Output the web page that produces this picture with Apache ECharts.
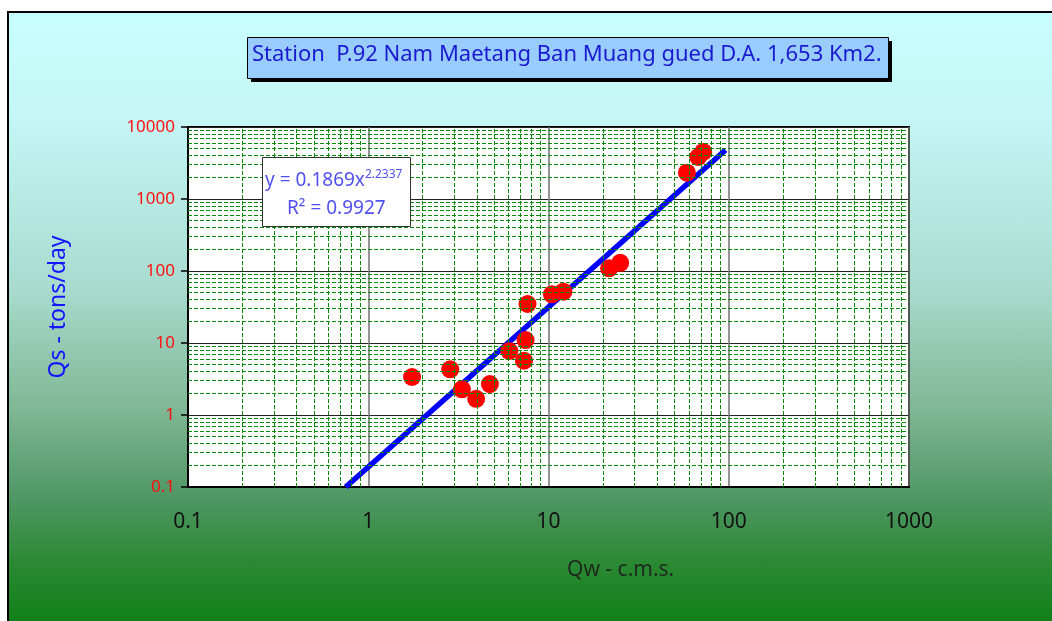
<!DOCTYPE html>
<html>
<head>
<meta charset="utf-8">
<script src="https://cdn.jsdelivr.net/npm/echarts@6/dist/echarts.min.js"></script>
<style>
html,body{margin:0;padding:0;background:#fff;}
#bg{position:absolute;left:7px;top:11px;width:1045px;height:610px;border-top:2px solid #000;border-left:2px solid #000;box-sizing:border-box;
background:linear-gradient(to bottom,#c8ffff 0%,#c3f6f4 18%,#a9dccf 45%,#7fb895 65%,#4f9663 80%,#2c8a35 90%,#11801a 100%);}
#chart{position:absolute;left:0;top:0;width:1052px;height:621px;}
</style>
</head>
<body>
<div id="bg"></div>
<div id="chart"></div>
<script>
// Observed data (Qw in c.m.s., Qs in tons/day)
var qw = [1.75, 2.85, 3.31, 3.97, 4.73, 6.06, 7.31, 7.46, 7.65, 10.45, 12.1, 21.7, 25.0, 58.6, 67.7, 72.2];
var qs = [3.37, 4.31, 2.27, 1.68, 2.69, 7.74, 5.68, 11.0, 34.8, 47.5, 51.6, 109, 130, 2317, 3830, 4500];
// Power trend line endpoints
var trendX = [0.75, 96];
var trendY = [0.1, 4800];
// Tick labels
var xTicks = ['0.1', '1', '10', '100', '1000'];
var yTicks = ['0.1', '1', '10', '100', '1000', '10000'];
var titleText = 'Station  P.92 Nam Maetang Ban Muang gued D.A. 1,653 Km2.';
var xName = 'Qw - c.m.s.';
var yName = 'Qs - tons/day';
var eqText = 'y = 0.1869x';
var eqExp = '2.2337';
var r2Text = 'R² = 0.9927';

// minor grid positions (2..9 within each decade)
var multipliers = [2, 3, 4, 5, 6, 7, 8, 9];
var xDecades = [0.1, 1, 10, 100];
var yDecades = [0.1, 1, 10, 100, 1000];
var minorX = [], minorY = [];
xDecades.forEach(function (d) { multipliers.forEach(function (m) { minorX.push(+(d * m).toPrecision(3)); }); });
yDecades.forEach(function (d) { multipliers.forEach(function (m) { minorY.push(+(d * m).toPrecision(3)); }); });

var points = qw.map(function (v, i) { return [v, qs[i]]; });
var trend = trendX.map(function (v, i) { return [v, trendY[i]]; });

var chart = echarts.init(document.getElementById('chart'));
var fontFam = '"Noto Sans", "Open Sans", sans-serif';
var gridLineStyle = { color: '#0a8a0a', width: 1, type: [4, 2] };

chart.setOption({
  animation: false,
  grid: { left: 188, top: 127, right: 143, bottom: 134, show: true, backgroundColor: '#fff', borderColor: '#000', borderWidth: 2 },
  xAxis: {
    type: 'log', logBase: 10, min: 0.1, max: 1000,
    axisLine: { show: true, lineStyle: { color: '#000', width: 2 } },
    axisTick: { show: false },
    axisLabel: { color: '#111', fontSize: 21, fontFamily: fontFam, margin: 25,
      formatter: function (v) { var s = String(+v.toPrecision(3)); return xTicks.indexOf(s) >= 0 ? s : ''; } },
    splitLine: { show: true, lineStyle: { color: '#707070', width: 1.5 } }
  },
  yAxis: {
    type: 'log', logBase: 10, min: 0.1, max: 10000,
    name: yName, nameLocation: 'middle', nameGap: 118,
    nameTextStyle: { color: '#1414ff', fontSize: 23, fontFamily: fontFam },
    axisLine: { show: true, lineStyle: { color: '#000', width: 2 } },
    axisTick: { show: true, length: 7, lineStyle: { color: '#000', width: 1.5 } },
    axisLabel: { color: '#ff1010', fontSize: 17, fontFamily: fontFam, margin: 13,
      formatter: function (v) { var s = String(+v.toPrecision(3)); return yTicks.indexOf(s) >= 0 ? s : ''; } },
    splitLine: { show: true, lineStyle: { color: '#222', width: 1 } }
  },
  series: [
    {
      type: 'line', data: [], silent: true, z: 1,
      markLine: {
        silent: true, symbol: ['none', 'none'], label: { show: false },
        lineStyle: gridLineStyle, animation: false,
        data: minorX.map(function (v) { return { xAxis: v }; }).concat(minorY.map(function (v) { return { yAxis: v }; }))
      }
    },
    {
      type: 'line', data: trend, symbol: 'none', z: 3,
      lineStyle: { color: '#0000ff', width: 5.5 }
    },
    {
      type: 'scatter', data: points, symbol: 'circle', symbolSize: 18, z: 4,
      itemStyle: { color: '#ff0000', opacity: 1 }
    }
  ],
  graphic: [
    { type: 'rect', left: 251, top: 41, shape: { width: 641, height: 41 }, style: { fill: '#000' }, z: 10 },
    { type: 'rect', left: 247, top: 37, shape: { width: 641, height: 41 }, style: { fill: '#99ccff', stroke: '#000', lineWidth: 1 }, z: 11 },
    { type: 'text', left: 252, top: 44, style: { text: titleText, fill: '#1a1ad0', font: '22px ' + fontFam }, z: 12 },
    { type: 'text', left: 567, top: 560, style: { text: xName, fill: '#1e2a1e', font: '21px ' + fontFam, textAlign: 'center' }, z: 12 },
    { type: 'rect', left: 262, top: 157, shape: { width: 148, height: 69 }, style: { fill: '#fff', stroke: '#333', lineWidth: 1 }, z: 10 },
    { type: 'text', left: 265, top: 169, z: 12,
      style: { rich: { a: { fontSize: 19, fontFamily: fontFam, fill: '#5050f0' }, b: { fontSize: 12, fontFamily: fontFam, fill: '#5050f0', verticalAlign: 'top', padding: [0, 0, 12, 0] } },
        text: '{a|' + eqText + '}{b|' + eqExp + '}' } },
    { type: 'text', left: 287, top: 199, z: 12, style: { text: r2Text, fill: '#5050f0', font: '19px ' + fontFam } }
  ]
});
</script>
</body>
</html>
